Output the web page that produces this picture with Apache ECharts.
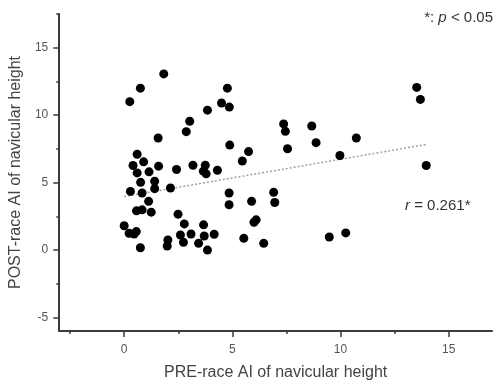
<!DOCTYPE html>
<html><head><meta charset="utf-8">
<script src="https://cdn.jsdelivr.net/npm/echarts@6/dist/echarts.min.js"></script>
<style>html,body{margin:0;padding:0;background:#fff}#c{width:500px;height:386px}</style>
</head><body><div id="c"></div>
<script>
// PRE-race AI of navicular height (x) and POST-race AI (y)
const preRace = [1.83,0.75,0.26,3.85,4.5,3.03,2.87,1.57,0.6,4.77,4.86,7.37,7.45,8.67,4.88,5.75,7.55,8.87,5.46,13.52,13.69,10.73,9.97,13.96,9.48,10.24,4.85,4.85,5.89,6.91,6.96,6.1,6.0,5.53,6.45,0.41,0.9,0.6,1.15,1.59,2.42,3.18,3.75,3.66,3.79,4.31,0.76,1.41,1.41,2.14,0.29,0.83,1.13,0.57,0.83,1.25,2.49,0.0,0.23,0.46,0.56,0.75,2.02,1.99,2.78,2.6,3.09,2.74,3.67,3.7,4.16,3.44,3.85];
const postRace = [13.06,12.0,11.0,10.37,10.9,9.55,8.78,8.31,7.1,12.0,10.6,9.35,8.8,9.2,7.78,7.3,7.51,7.96,6.6,12.06,11.17,8.31,7.01,6.27,0.97,1.27,4.23,3.36,3.61,4.28,3.53,2.24,2.06,0.87,0.5,6.27,6.54,5.72,5.8,6.22,5.97,6.29,6.29,5.85,5.65,5.92,5.02,5.1,4.55,4.6,4.35,4.23,3.61,2.91,2.98,2.81,2.66,1.8,1.25,1.19,1.37,0.17,0.75,0.3,1.94,1.12,1.19,0.57,1.87,1.04,1.17,0.5,0.0];
// regression line endpoints
const trendX = [0, 14];
const trendY = [3.96, 7.84];
// tick labels
const xMajor = [0, 5, 10, 15];
const xMinor = [-2.5, 2.5, 7.5, 12.5];
const yMajor = [-5, 0, 5, 10, 15];
const yMinor = [-2.5, 2.5, 7.5, 12.5, 17.5];

const points = preRace.map((x, i) => [x, postRace[i]]);
const trend = trendX.map((x, i) => [x, trendY[i]]);

const font = 'Liberation Sans, Arial, sans-serif';
const axisColor = '#3a3a3a';
const labelColor = '#555';

const chart = echarts.init(document.getElementById('c'));
chart.setOption({
  animation: false,
  grid: {left: 55, right: 8, top: 14, bottom: 55, containLabel: false},
  xAxis: [{
    type: 'value', min: -3, max: 17,
    name: 'PRE-race AI of navicular height', nameLocation: 'middle', nameGap: 34,
    nameTextStyle: {color: '#444', fontSize: 16, fontFamily: font},
    axisLine: {show: true, onZero: false, lineStyle: {color: axisColor, width: 2}},
    axisTick: {show: true, length: 6, lineStyle: {color: axisColor, width: 1.5}, customValues: xMajor},
    axisLabel: {color: labelColor, fontSize: 12, fontFamily: font, margin: 13, customValues: xMajor},
    splitLine: {show: false}
  }, {
    type: 'value', min: -3, max: 17, position: 'bottom',
    axisLine: {show: false, onZero: false},
    axisTick: {show: true, length: 3, lineStyle: {color: axisColor, width: 1.5}, customValues: xMinor},
    axisLabel: {show: false},
    splitLine: {show: false}
  }],
  yAxis: [{
    type: 'value', min: -6, max: 17.5,
    name: 'POST-race AI of navicular height', nameLocation: 'middle', nameGap: 28,
    nameTextStyle: {color: '#444', fontSize: 16, fontFamily: font},
    axisLine: {show: true, onZero: false, lineStyle: {color: axisColor, width: 2}},
    axisTick: {show: true, length: 6, lineStyle: {color: axisColor, width: 1.5}, customValues: yMajor},
    axisLabel: {color: labelColor, fontSize: 12, fontFamily: font, margin: 11, customValues: yMajor},
    splitLine: {show: false}
  }, {
    type: 'value', min: -6, max: 17.5, position: 'left',
    axisLine: {show: false, onZero: false},
    axisTick: {show: true, length: 3, lineStyle: {color: axisColor, width: 1.5}, customValues: yMinor},
    axisLabel: {show: false},
    splitLine: {show: false}
  }],
  series: [{
    type: 'line', data: trend, symbol: 'none', z: 1,
    lineStyle: {color: '#a0a0a0', width: 1.5, type: [2, 2]}
  }, {
    type: 'scatter', data: points, symbol: 'circle', symbolSize: 9, z: 2,
    itemStyle: {color: '#000', opacity: 1}
  }],
  graphic: [{
    type: 'text', right: 7, top: 10,
    style: {
      text: '{n|*: }{i|p}{n| < 0.05}', fill: '#333',
      rich: {n: {fontSize: 15, fontFamily: font, fill: '#333'}, i: {fontSize: 15, fontFamily: font, fontStyle: 'italic', fill: '#333'}}
    }
  }, {
    type: 'text', left: 405, top: 198,
    style: {
      text: '{i|r}{n| = 0.261*}', fill: '#333',
      rich: {n: {fontSize: 15, fontFamily: font, fill: '#333'}, i: {fontSize: 15, fontFamily: font, fontStyle: 'italic', fill: '#333'}}
    }
  }]
});
</script></body></html>
